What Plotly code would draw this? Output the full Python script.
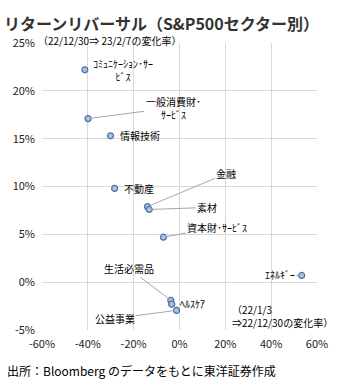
import plotly.graph_objects as go

sectors = ["ｺﾐｭﾆｹｰｼｮﾝ･ｻｰ<br>ﾋﾞｽ", "一般消費財･<br>ｻｰﾋﾞｽ", "情報技術", "不動産", "金融", "素材",
           "資本財･ｻｰﾋﾞｽ", "ｴﾈﾙｷﾞｰ", "生活必需品", "ﾍﾙｽｹｱ", "公益事業"]
x_vals = [-41.3, -39.9, -30.1, -28.3, -14.0, -13.2, -7.0, 53.3, -3.8, -3.4, -1.3]
y_vals = [22.2, 17.1, 15.3, 9.8, 7.9, 7.6, 4.7, 0.7, -1.9, -2.3, -2.95]
x_ticks = [-60, -40, -20, 0, 20, 40, 60]
y_ticks = [-5, 0, 5, 10, 15, 20, 25]

# label placement (pixel offsets): ('arrow', ax, ay) or ('shift', xshift, yshift, xanchor)
label_style = [
    ("shift", 38, 0, "center"),
    ("arrow", 85, -11),
    ("shift", 7, 0, "left"),
    ("shift", 7, 0, "left"),
    ("arrow", 79, -33),
    ("arrow", 58, -2),
    ("arrow", 54, -10),
    ("arrow", -22, -1),
    ("arrow", -42, -32),
    ("shift", 6, 1, "left"),
    ("arrow", -62, 8),
]

FONT = "Noto Sans CJK JP"

fig = go.Figure()
fig.add_trace(go.Scatter(
    x=x_vals, y=y_vals, mode="markers",
    marker=dict(size=6, color="#a9c0e0", line=dict(color="#4a6fa5", width=1.2)),
    hoverinfo="skip", showlegend=False,
))

annos = []
for name, xv, yv, st in zip(sectors, x_vals, y_vals, label_style):
    if st[0] == "arrow":
        annos.append(dict(x=xv, y=yv, xref="x", yref="y", text=name, showarrow=True,
                          ax=st[1], ay=st[2], arrowhead=0, arrowwidth=1, arrowcolor="#a6a6a6",
                          standoff=2, font=dict(size=10, color="#000", family=FONT)))
    else:
        annos.append(dict(x=xv, y=yv, xref="x", yref="y", text=name, showarrow=False,
                          xanchor=st[3], xshift=st[1], yshift=st[2],
                          font=dict(size=10, color="#000", family=FONT)))

annos += [
    dict(x=0.0, y=1.0, xref="paper", yref="paper", xanchor="left", yanchor="middle",
         text="（22/12/30⇒ 23/2/7の変化率）", showarrow=False, yshift=3, xshift=-6,
         font=dict(size=10, color="#000", family=FONT)),
    dict(x=0.685, y=0.0, xref="paper", yref="paper", xanchor="left", yanchor="bottom",
         text="（22/1/3<br>⇒22/12/30の変化率）", showarrow=False, align="left", yshift=-2,
         font=dict(size=10, color="#000", family=FONT)),
    dict(x=0, y=1, xref="paper", yref="paper", xanchor="left", yanchor="middle",
         text="<b>リターンリバーサル（S&P500セクター別）</b>", showarrow=False,
         xshift=-40, yshift=-23 + 43, font=dict(size=16, color="#333", family=FONT)),
]

fig.update_layout(
    width=340, height=380,
    margin=dict(l=42, r=20, t=43, b=50),
    paper_bgcolor="white", plot_bgcolor="white",
    font=dict(family=FONT, size=11, color="#222"),
    annotations=annos,
    xaxis=dict(range=[-60, 60], tickvals=x_ticks, ticktext=[f"{v}%" for v in x_ticks],
               showgrid=True, gridcolor="#d9d9d9", gridwidth=1, zeroline=False,
               showline=False, ticks="", ticklabelstandoff=6, tickfont=dict(size=11)),
    yaxis=dict(range=[-5, 25], tickvals=y_ticks, ticktext=[f"{v}%" for v in y_ticks],
               showgrid=True, gridcolor="#d9d9d9", gridwidth=1, zeroline=False,
               showline=False, ticks="", ticklabelstandoff=6, tickfont=dict(size=11)),
)
fig.add_annotation(x=0, y=0, xref="paper", yref="paper", xanchor="left", yanchor="middle",
                   text="出所：Bloomberg のデータをもとに東洋証券作成", showarrow=False,
                   xshift=-37, yshift=-40, font=dict(size=12, color="#000", family=FONT))

fig.write_html("out.html")
